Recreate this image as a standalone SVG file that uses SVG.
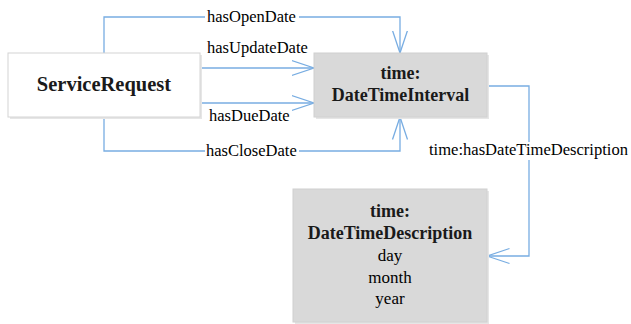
<svg xmlns="http://www.w3.org/2000/svg" width="631" height="324" viewBox="0 0 631 324">
<style>
.edge{fill:none;stroke:#78ade2;stroke-width:1.3}
.lbl{font-family:"Liberation Serif","Times New Roman",Tinos,"DejaVu Serif",serif;font-size:16.5px;fill:#000}
.bold{font-family:"Liberation Serif","Times New Roman",Tinos,"DejaVu Serif",serif;font-weight:bold;fill:#1a1a1a}
.reg{font-family:"Liberation Serif","Times New Roman",Tinos,"DejaVu Serif",serif;font-size:17px;fill:#000}
.shadow{fill:#e6e6e6}
</style>
<defs>
<marker id="open" viewBox="0 0 24 18" refX="22.5" refY="9" markerWidth="24" markerHeight="18" markerUnits="userSpaceOnUse" orient="auto">
<path d="M0,1.5 L22.5,9 L0,16.5" fill="none" stroke="#78ade2" stroke-width="1.3"/>
</marker>
</defs>
<rect width="631" height="324" fill="#fff"/>
<g id="connectors">
<path class="edge" d="M104,53 V17 H400 V53" marker-end="url(#open)"/>
<path class="edge" d="M200,68 H314" marker-end="url(#open)"/>
<path class="edge" d="M200,103 H314" marker-end="url(#open)"/>
<path class="edge" d="M104,117 V151 H400 V117" marker-end="url(#open)"/>
<path class="edge" d="M487,86 H529 V256 H487" marker-end="url(#open)"/>
<rect x="205" y="9" width="94" height="16" fill="#fff"/>
<text class="lbl" x="207" y="22">hasOpenDate</text>
<text class="lbl" x="207" y="53">hasUpdateDate</text>
<text class="lbl" x="209" y="121">hasDueDate</text>
<rect x="205" y="143" width="94" height="16" fill="#fff"/>
<text class="lbl" x="206" y="156">hasCloseDate</text>
<rect x="427" y="142" width="202" height="18" fill="#fff"/>
<text class="lbl" x="429" y="155" textLength="199" lengthAdjust="spacingAndGlyphs">time:hasDateTimeDescription</text>
</g>
<g id="ServiceRequest">
<rect class="shadow" x="10" y="55" width="192" height="64"/>
<rect x="8" y="53" width="192" height="64" fill="#fff" stroke="#d4d4d4" stroke-width="1"/>
<text class="bold" x="104" y="91" font-size="20.5" text-anchor="middle">ServiceRequest</text>
</g>
<g id="DateTimeInterval">
<rect class="shadow" x="316" y="55" width="173" height="64"/>
<rect x="314" y="53" width="173" height="64" fill="#d9d9d9" stroke="#d0d0d0" stroke-width="1"/>
<text class="bold" x="400.5" y="79" font-size="18" text-anchor="middle">time:</text>
<text class="bold" x="400.5" y="101" font-size="18" text-anchor="middle">DateTimeInterval</text>
</g>
<g id="DateTimeDescription">
<rect class="shadow" x="295" y="191" width="194" height="133"/>
<rect x="293" y="189" width="194" height="133" fill="#d9d9d9" stroke="#d0d0d0" stroke-width="1"/>
<text class="bold" x="390" y="217" font-size="18" text-anchor="middle">time:</text>
<text class="bold" x="390" y="239" font-size="18" text-anchor="middle">DateTimeDescription</text>
<text class="reg" x="390" y="261" text-anchor="middle">day</text>
<text class="reg" x="390" y="283" text-anchor="middle">month</text>
<text class="reg" x="390" y="304" text-anchor="middle">year</text>
</g>
</svg>
